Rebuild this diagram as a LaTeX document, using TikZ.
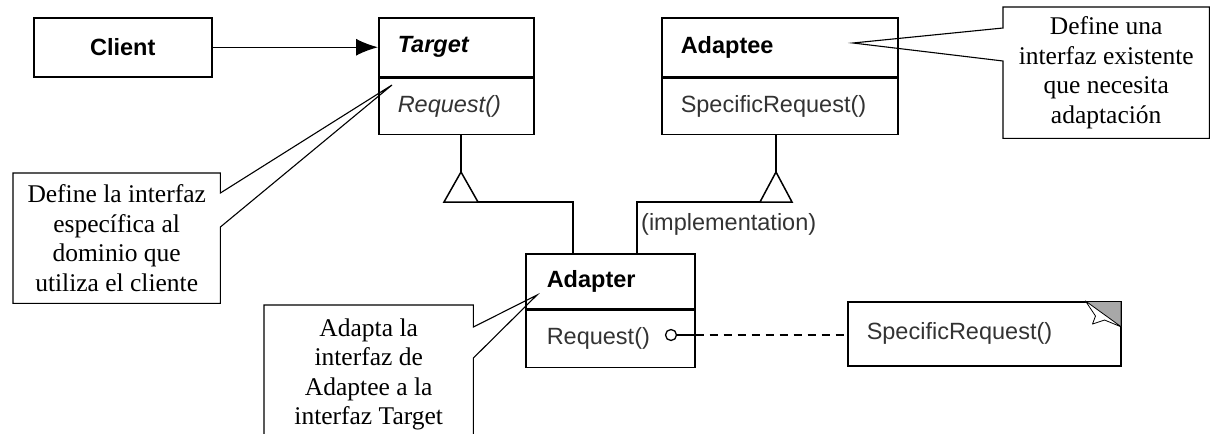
\documentclass[tikz,border=0pt]{standalone}
\usepackage{fontspec}
\setmainfont{Liberation Serif}
\setsansfont{Liberation Sans}
\usepackage{tikz}
\usetikzlibrary{positioning,arrows.meta,calc}
\definecolor{ink}{HTML}{333333}
\definecolor{fold}{HTML}{A8A8A8}
\newcommand{\umlf}{\fontsize{23.5}{27}\selectfont\sffamily}
\newcommand{\memof}{\fontsize{25.5}{29.5}\selectfont\rmfamily}
\tikzset{
  cls/.style={draw,line width=1.5pt,font=\umlf,text width=#1,inner xsep=19pt,inner ysep=0pt,align=left,minimum height=58pt},
  memo/.style={font=\memof,align=center,inner sep=0pt},
  frame/.style={line width=1.1pt,line join=miter},
  link/.style={line width=1.5pt},
  arr/.style={link,-{Latex[length=22pt,width=17pt]}},
  dep/.style={link,dash pattern=on 8pt off 6pt},
}

\begin{document}
\begin{tikzpicture}[x=1pt,y=-1pt]
\useasboundingbox (0,0) rectangle (1211,434);
\clip (0,0) rectangle (1211,434);
\node[draw,line width=1.5pt,font=\umlf\bfseries,minimum width=178pt,minimum height=59pt,anchor=north west] (client) at (33,17) {Client};
\node[cls=117pt,font=\umlf\bfseries\itshape,anchor=north west,minimum height=59pt] (target) at (378,17) {Target};
\node[cls=117pt,font=\umlf\itshape,text=ink,below=0pt of target,minimum height=56pt] (targetops) {Request()};
\node[cls=198pt,font=\umlf\bfseries,anchor=north west,minimum height=59pt] (adaptee) at (661,17) {Adaptee};
\node[cls=198pt,text=ink,below=0pt of adaptee,minimum height=56pt] (adapteeops) {SpecificRequest()};
\node[cls=127pt,inner xsep=21pt,font=\umlf\bfseries,anchor=north west,minimum height=55pt] (adapter) at (525,253) {Adapter};
\node[cls=127pt,inner xsep=21pt,text=ink,below=0pt of adapter,minimum height=57pt] (adapterops) {Request()};
\node[cls=235pt,text=ink,minimum height=64pt,anchor=north west] (spec) at (847,301) {SpecificRequest()};
\node[circle,draw,line width=1.3pt,fill=white,inner sep=0pt,minimum size=11pt] (reqdot) at (671,335) {};
\node[font=\umlf,text=ink,anchor=base west,inner sep=0pt] (impl) at (641,230) {(implementation)};

\draw[arr] (client) -- (target);

\coordinate (ttip) at (461,172);
\coordinate (tjoin) at (573,202);
\draw[link] (targetops.south -| ttip) -- (ttip);
\draw[link,line join=miter] (ttip) -- ++(-17,30) -- ++(34,0) -- cycle;
\draw[link] ($(ttip)+(17,30)$) -- (tjoin) -- (tjoin |- adapter.north);

\coordinate (atip) at (776,172);
\coordinate (ajoin) at (637,202);
\draw[link] (adapteeops.south -| atip) -- (atip);
\draw[link,line join=miter] (atip) -- ++(-16,30) -- ++(32,0) -- cycle;
\draw[link] ($(atip)+(-16,30)$) -- (ajoin) -- (ajoin |- adapter.north);

\coordinate (opsedge) at (reqdot -| adapterops.east);
\draw[link] (reqdot) -- (opsedge);
\draw[dep] (opsedge) -- (opsedge -| spec.west);

\fill[fold] ($(spec.north east)+(-36,1)$) -- ($(spec.north east)+(-1,1)$) -- ($(spec.north east)+(-1,26)$) -- cycle;
\filldraw[fill=white,line width=0.8pt,line join=round] ($(spec.north east)+(-36,0)$) -- ($(spec.north east)+(-26,15)$) -- ($(spec.north east)+(-29,23)$) -- ($(spec.north east)+(-17,19)$) -- ($(spec.north east)+(0,26)$) -- cycle;

\node[memo,minimum width=206pt,minimum height=131pt,anchor=north west] (cadaptee) at (1003,7) {Define una\\interfaz existente\\que necesita\\adaptación};
\coordinate (cadapteetip) at (853,43);
\draw[frame] (cadaptee.north east) -- (cadaptee.north west) -- ($(cadaptee.north west)+(0,21)$) -- (cadapteetip) -- ($(cadaptee.north west)+(0,54)$) -- (cadaptee.south west) -- (cadaptee.south east) -- cycle;

\node[memo,minimum width=207pt,minimum height=130pt,anchor=north west] (ctarget) at (13,173) {Define la interfaz\\específica al\\dominio que\\utiliza el cliente};
\coordinate (ctargettip) at (392,85);
\draw[frame] (ctarget.north west) -- (ctarget.north east) -- ($(ctarget.north east)+(0,20)$) -- (ctargettip) -- ($(ctarget.north east)+(0,54)$) -- (ctarget.south east) -- (ctarget.south west) -- cycle;

\node[memo,minimum width=209pt,minimum height=138pt,anchor=north west] (cadapter) at (264,305) {Adapta la\\interfaz de\\Adaptee a la\\interfaz Target};
\coordinate (cadaptertip) at (537,295);
\draw[frame] (cadapter.north west) -- (cadapter.north east) -- ($(cadapter.north east)+(0,22)$) -- (cadaptertip) -- ($(cadapter.north east)+(0,53)$) -- (cadapter.south east) -- (cadapter.south west) -- cycle;
\end{tikzpicture}
\end{document}
